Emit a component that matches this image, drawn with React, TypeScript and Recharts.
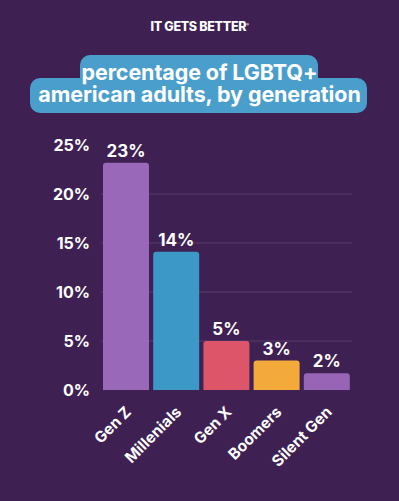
import { Bar, BarChart, CartesianGrid, Cell, LabelList, XAxis, YAxis } from 'recharts'

const generations = ['Gen Z', 'Millenials', 'Gen X', 'Boomers', 'Silent Gen']
const shares = [23.2, 14.1, 5, 3, 1.7]
const barColors = ['#9a68b8', '#3b98c7', '#dd5569', '#f4a93b', '#9864b6']
const yTicks = [0, 5, 10, 15, 20, 25]

const FONT = 'Inter, "Open Sans", sans-serif'
const BG = '#3e2053'
const BOX = '#4a9ecb'

const chartData = generations.map((g, i) => ({
  name: g,
  pct: shares[i],
  fill: barColors[i],
}))

function AngleTick(props: any) {
  const { x, y, payload } = props
  return (
    <g transform={`translate(${x + 6},${y + 15})`}>
      <text
        x={0}
        y={0}
        textAnchor="end"
        transform="rotate(-45)"
        fill="#ffffff"
        fontSize={15.5}
        fontWeight={700}
        fontFamily={FONT}
      >
        {payload.value}
      </text>
    </g>
  )
}

export default function App() {
  return (
    <div
      style={{
        position: 'fixed',
        left: 0,
        top: 0,
        width: 399,
        height: 501,
        background: BG,
        overflow: 'hidden',
        fontFamily: FONT,
      }}
    >
      <div
        style={{
          position: 'absolute',
          top: 19,
          left: 0,
          width: 399,
          textAlign: 'center',
          color: '#fff',
          fontSize: 12.5,
          fontWeight: 800,
          letterSpacing: -0.3,
        }}
      >
        IT GETS BETTER<sup style={{ fontSize: 4 }}>®</sup>
      </div>

      {/* title boxes */}
      <div style={{ position: 'absolute', left: 80, top: 55, width: 238, height: 34, background: BOX, borderRadius: 10 }} />
      <div style={{ position: 'absolute', left: 30, top: 78, width: 337, height: 35, background: BOX, borderRadius: 10 }} />
      <div
        style={{
          position: 'absolute',
          top: 61,
          left: 0,
          width: 399,
          textAlign: 'center',
          color: '#fff',
          fontSize: 21.5,
          fontWeight: 700,
          lineHeight: '22px',
          letterSpacing: -0.1,
        }}
      >
        percentage of LGBTQ+
        <br />
        american adults, by generation
      </div>

      <div style={{ position: 'absolute', left: 0, top: 0 }}>
        <BarChart
          width={399}
          height={501}
          data={chartData}
          margin={{ top: 145, right: 47, bottom: 0, left: 0 }}
          barCategoryGap={2}
        >
          <CartesianGrid
            vertical={false}
            stroke="rgba(255,255,255,0.13)"
            horizontalValues={[5, 10, 15, 20]}
          />
          <XAxis
            dataKey="name"
            axisLine={false}
            tickLine={false}
            interval={0}
            height={111}
            tick={<AngleTick />}
          />
          <YAxis
            type="number"
            domain={[0, 25]}
            ticks={yTicks}
            width={101}
            axisLine={false}
            tickLine={false}
            tickSize={0}
            tickMargin={11}
            tickFormatter={(v: number) => `${v}%`}
            tick={{ fill: '#ffffff', fontSize: 16, fontWeight: 700, fontFamily: FONT }}
          />
          <Bar dataKey="pct" radius={[3, 3, 0, 0]} isAnimationActive={false}>
            {chartData.map((d, i) => (
              <Cell key={i} fill={d.fill} />
            ))}
            <LabelList
              dataKey="pct"
              position="top"
              offset={6}
              formatter={(v: number) => `${Math.round(v)}%`}
              fill="#ffffff"
              fontSize={17}
              fontWeight={700}
              fontFamily={FONT}
            />
          </Bar>
        </BarChart>
      </div>
    </div>
  )
}
